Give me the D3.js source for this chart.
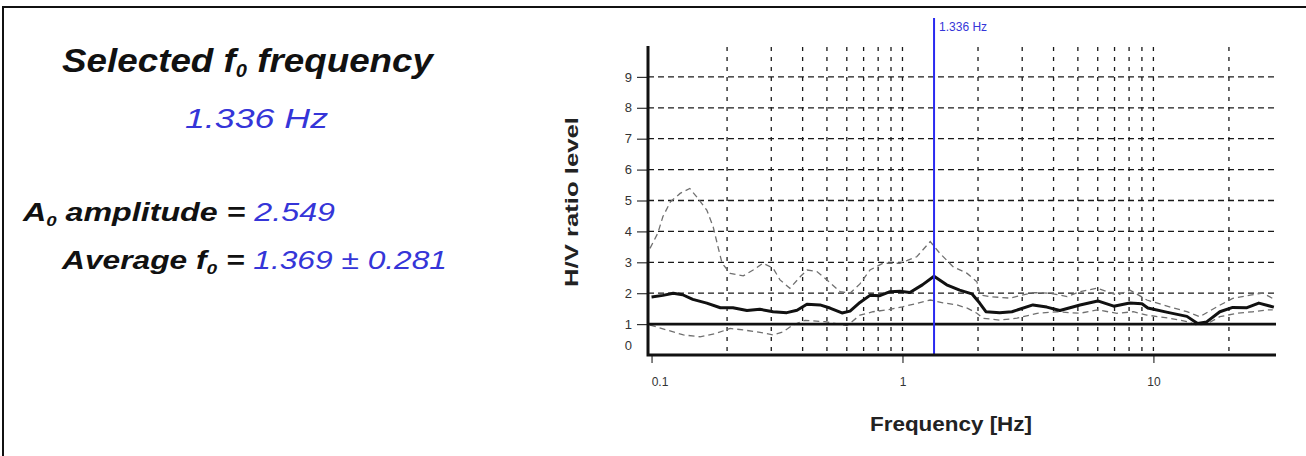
<!DOCTYPE html>
<html>
<head>
<meta charset="utf-8">
<script src="https://cdn.jsdelivr.net/npm/d3@7"></script>
<style>
  body { margin: 0; background: #fff; }
  svg { display: block; }
</style>
</head>
<body>
<div class="canvas"></div>
<script>
const W = 1306, H = 456;

// H/V curve (mean)
const freqMain = [0.100, 0.111, 0.122, 0.133, 0.146, 0.166, 0.188, 0.211, 0.240, 0.270, 0.305, 0.346, 0.380, 0.416,
  0.469, 0.514, 0.574, 0.618, 0.677, 0.742, 0.813, 0.892, 0.977, 1.07, 1.20, 1.336, 1.50, 1.69, 1.89, 2.03, 2.15,
  2.44, 2.73, 3.31, 3.76, 4.24, 5.10, 6.00, 6.95, 8.05, 9.0, 9.5, 11.4, 13.6, 15.0, 16.3, 18.4, 20.7, 23.6, 26.3, 30.2];
const hvMain = [1.88, 1.93, 2.00, 1.95, 1.80, 1.68, 1.53, 1.53, 1.44, 1.48, 1.40, 1.37, 1.45, 1.64,
  1.62, 1.52, 1.36, 1.42, 1.70, 1.93, 1.92, 2.05, 2.06, 2.02, 2.27, 2.549, 2.27, 2.10, 1.98, 1.68, 1.40,
  1.37, 1.40, 1.62, 1.55, 1.44, 1.62, 1.75, 1.58, 1.68, 1.66, 1.52, 1.38, 1.25, 1.02, 1.07, 1.40, 1.54, 1.53, 1.68, 1.55];

// upper (mean * std) curve
const freqUpper = [0.0986, 0.106, 0.111, 0.119, 0.130, 0.142, 0.153, 0.166, 0.176, 0.184, 0.191, 0.206, 0.232, 0.254,
  0.278, 0.305, 0.325, 0.356, 0.391, 0.417, 0.456, 0.500, 0.564, 0.618, 0.677, 0.742, 0.836, 0.977, 1.14, 1.29, 1.41,
  1.59, 1.81, 1.98, 2.04, 2.23, 2.68, 3.31, 3.87, 4.53, 5.09, 5.96, 7.16, 8.07, 9.42, 11.6, 13.6, 15.3, 17.9, 20.7,
  24.3, 27.3, 29.9];
const hvUpper = [3.45, 3.95, 4.48, 4.96, 5.23, 5.39, 5.07, 4.69, 4.15, 3.50, 2.97, 2.64, 2.56, 2.75,
  2.97, 2.81, 2.43, 2.16, 2.53, 2.75, 2.70, 2.43, 2.05, 2.00, 2.30, 2.75, 2.97, 2.97, 3.18, 3.67, 3.29,
  2.86, 2.64, 2.37, 1.94, 1.89, 1.84, 2.02, 2.00, 1.89, 2.05, 2.16, 1.94, 2.10, 1.78, 1.56, 1.40, 1.24, 1.56, 1.83,
  1.94, 2.00, 1.83];

// lower (mean / std) curve
const freqLower = [0.0986, 0.115, 0.134, 0.156, 0.181, 0.206, 0.232, 0.263, 0.305, 0.334, 0.366, 0.409, 0.491, 0.601,
  0.677, 0.763, 0.868, 1.00, 1.14, 1.29, 1.45, 1.65, 1.82, 1.98, 2.09, 2.44, 2.86, 3.44, 4.13, 5.09, 5.98, 7.16,
  8.32, 9.42, 11.6, 13.6, 14.9, 16.3, 18.4, 21.5, 24.9, 28.3, 29.9];
const hvLower = [0.97, 0.81, 0.65, 0.59, 0.70, 0.86, 0.81, 0.75, 0.65, 0.75, 0.97, 1.12, 1.08, 0.95,
  1.29, 1.40, 1.46, 1.56, 1.67, 1.78, 1.69, 1.62, 1.51, 1.35, 1.19, 1.13, 1.19, 1.35, 1.40, 1.35, 1.46, 1.35,
  1.40, 1.29, 1.19, 1.08, 0.97, 1.00, 1.24, 1.35, 1.40, 1.46, 1.46];

const yTicks = [0, 1, 2, 3, 4, 5, 6, 7, 8, 9];
const xTicks = [0.1, 1, 10];
const xGrid = [0.2, 0.3, 0.4, 0.5, 0.6, 0.7, 0.8, 0.9, 1, 2, 3, 4, 5, 6, 7, 8, 9, 10, 20];
const refLevel = 1;
const f0 = 1.336;
const f0Label = '1.336 Hz';
const a0Label = '2.549';
const avgLabel = '1.369 \u00b1 0.281';

const BLUE = '#3535d8';

const svg = d3.select('.canvas')
  .append('svg')
  .attr('width', W)
  .attr('height', H)

// frame: only top and left edges show
svg.append('path')
  .attr('d', `M3,${H} L3,7 L${W},7`)
  .attr('fill', 'none')
  .attr('stroke', '#111')
  .attr('stroke-width', 2)

// ---- left text block ----
const sans = 'Liberation Sans, Arial, sans-serif';
const narrow = 'Liberation Sans Narrow, Liberation Sans, sans-serif';

const t1 = svg.append('text')
  .attr('x', 62).attr('y', 72)
  .attr('font-family', sans).attr('font-size', 33)
  .attr('font-weight', 'bold').attr('font-style', 'italic')
  .attr('fill', '#111')
  .attr('textLength', 371).attr('lengthAdjust', 'spacingAndGlyphs')
t1.append('tspan').text('Selected f')
t1.append('tspan').attr('font-size', 18).attr('dy', 5).text('0')
t1.append('tspan').attr('dy', -5).text(' frequency')

svg.append('text')
  .attr('x', 185).attr('y', 128)
  .attr('font-family', sans).attr('font-size', 28)
  .attr('font-style', 'italic')
  .attr('fill', BLUE)
  .attr('textLength', 143).attr('lengthAdjust', 'spacingAndGlyphs')
  .text(f0Label)

const t3 = svg.append('text')
  .attr('x', 23).attr('y', 221)
  .attr('font-family', sans).attr('font-size', 26)
  .attr('font-style', 'italic')
  .attr('textLength', 312).attr('lengthAdjust', 'spacingAndGlyphs')
t3.append('tspan').attr('font-weight', 'bold').attr('fill', '#111').text('A')
t3.append('tspan').attr('font-weight', 'bold').attr('fill', '#111').attr('font-size', 15).attr('dy', 5).text('0')
t3.append('tspan').attr('font-weight', 'bold').attr('fill', '#111').attr('dy', -5).text(' amplitude = ')
t3.append('tspan').attr('fill', BLUE).text(a0Label)

const t4 = svg.append('text')
  .attr('x', 62).attr('y', 269)
  .attr('font-family', sans).attr('font-size', 25)
  .attr('font-style', 'italic')
  .attr('textLength', 385).attr('lengthAdjust', 'spacingAndGlyphs')
t4.append('tspan').attr('font-weight', 'bold').attr('fill', '#111').text('Average f')
t4.append('tspan').attr('font-weight', 'bold').attr('fill', '#111').attr('font-size', 15).attr('dy', 5).text('0')
t4.append('tspan').attr('font-weight', 'bold').attr('fill', '#111').attr('dy', -5).text(' = ')
t4.append('tspan').attr('fill', BLUE).text(avgLabel)

// ---- chart ----
const plot = { left: 648, right: 1276, top: 46, bottom: 355 };

const x = d3.scaleLog()
  .domain([0.0968, 30.8])
  .range([plot.left, plot.right])

const y = d3.scaleLinear()
  .domain([0, 10])
  .range([plot.bottom, plot.top])

const grid = svg.append('g')

// horizontal dashed grid
grid.selectAll('line.h')
  .data(yTicks.filter(d => d > 0))
  .enter().append('line')
  .attr('class', 'h')
  .attr('x1', plot.left).attr('x2', plot.right)
  .attr('y1', d => y(d)).attr('y2', d => y(d))
  .attr('stroke', '#1a1a1a')
  .attr('stroke-width', 1.3)
  .attr('stroke-dasharray', '6,4')

// vertical dashed grid
grid.selectAll('line.v')
  .data(xGrid)
  .enter().append('line')
  .attr('class', 'v')
  .attr('x1', d => x(d)).attr('x2', d => x(d))
  .attr('y1', plot.top + 1).attr('y2', plot.bottom)
  .attr('stroke', '#1a1a1a')
  .attr('stroke-width', 1.3)
  .attr('stroke-dasharray', '4,6')

const line = d3.line()
  .x(d => x(d[0]))
  .y(d => y(d[1]))

// std curves
svg.append('path')
  .datum(d3.zip(freqUpper, hvUpper))
  .attr('d', line)
  .attr('fill', 'none')
  .attr('stroke', '#707070')
  .attr('stroke-width', 1.3)
  .attr('stroke-dasharray', '6,4')

svg.append('path')
  .datum(d3.zip(freqLower, hvLower))
  .attr('d', line)
  .attr('fill', 'none')
  .attr('stroke', '#707070')
  .attr('stroke-width', 1.3)
  .attr('stroke-dasharray', '6,4')

// mean H/V curve
svg.append('path')
  .datum(d3.zip(freqMain, hvMain))
  .attr('d', line)
  .attr('fill', 'none')
  .attr('stroke', '#111')
  .attr('stroke-width', 3)
  .attr('stroke-linejoin', 'round')

// reference level line at H/V = 1
svg.append('line')
  .attr('x1', plot.left).attr('x2', plot.right)
  .attr('y1', y(refLevel)).attr('y2', y(refLevel))
  .attr('stroke', '#111')
  .attr('stroke-width', 2.6)

// selected f0 marker
svg.append('line')
  .attr('x1', x(f0)).attr('x2', x(f0))
  .attr('y1', 18).attr('y2', plot.bottom)
  .attr('stroke', '#2a2af0')
  .attr('stroke-width', 2)

svg.append('text')
  .attr('x', x(f0) + 5).attr('y', 31)
  .attr('font-family', narrow)
  .attr('font-size', 12)
  .attr('fill', BLUE)
  .text(f0Label)

// y axis
const yAxis = svg.append('g')
  .attr('transform', `translate(${plot.left - 1},0)`)
  .call(d3.axisLeft(y).tickValues(yTicks).tickSize(10).tickSizeOuter(0).tickPadding(5))
yAxis.select('.domain').remove()
yAxis.selectAll('line').attr('stroke', '#333').attr('stroke-width', 1.2)
yAxis.selectAll('.tick').filter(d => d === 0).select('line').remove()
yAxis.selectAll('.tick').filter(d => d === 0).select('text').attr('dy', '-0.45em')
yAxis.selectAll('text')
  .attr('font-family', sans).attr('font-size', 13).attr('fill', '#333')

// x axis
const xAxis = svg.append('g')
  .attr('transform', `translate(0,${plot.bottom})`)
  .call(d3.axisBottom(x).tickValues(xTicks).tickFormat(d3.format('')).tickSize(8).tickSizeOuter(0).tickPadding(14))
xAxis.select('.domain').remove()
xAxis.selectAll('line').attr('stroke', '#333').attr('stroke-width', 1.2)
xAxis.selectAll('.tick').filter(d => d === 0.1).select('text').attr('dx', 8)
xAxis.selectAll('text')
  .attr('font-family', narrow)
  .attr('font-size', 12).attr('fill', '#333')

// axis lines
svg.append('path')
  .attr('d', `M${plot.left},${plot.top} L${plot.left},${plot.bottom} L${plot.right},${plot.bottom}`)
  .attr('fill', 'none')
  .attr('stroke', '#111')
  .attr('stroke-width', 3)

// axis titles
svg.append('text')
  .attr('transform', `translate(578,202) rotate(-90)`)
  .attr('text-anchor', 'middle')
  .attr('font-family', narrow)
  .attr('font-size', 19).attr('font-weight', 'bold').attr('fill', '#222')
  .attr('textLength', 170).attr('lengthAdjust', 'spacingAndGlyphs')
  .text('H/V ratio level')

svg.append('text')
  .attr('x', 951).attr('y', 431)
  .attr('text-anchor', 'middle')
  .attr('font-family', narrow)
  .attr('font-size', 21).attr('font-weight', 'bold').attr('fill', '#222')
  .attr('textLength', 162).attr('lengthAdjust', 'spacingAndGlyphs')
  .text('Frequency [Hz]')
</script>
</body>
</html>
